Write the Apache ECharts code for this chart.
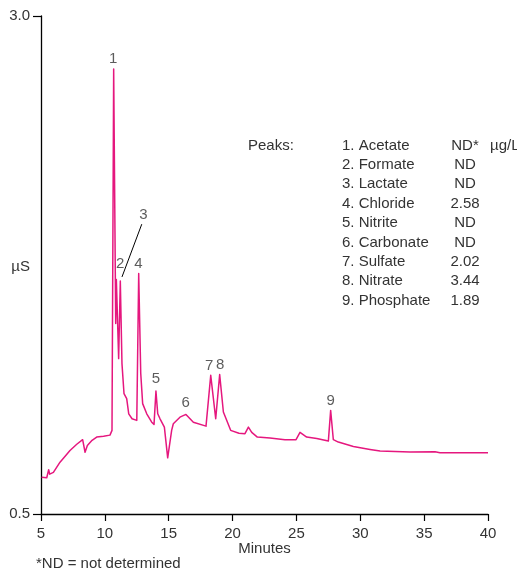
<!DOCTYPE html>
<html>
<head>
<meta charset="utf-8">
<script src="https://cdn.jsdelivr.net/npm/echarts@6/dist/echarts.min.js"></script>
<style>
html,body{margin:0;padding:0;background:#fff;}
#c{width:517px;height:571px;}
</style>
</head>
<body>
<div id="c"></div>
<script>
// ---- data ----
var timeMin = [5.05,5.45,5.55,5.6,5.68,5.76,5.97,6.49,7.27,7.8,8.26,8.35,8.45,8.63,9.0,9.36,9.9,10.4,10.56,10.69,10.85,10.9,11.08,11.21,11.34,11.5,11.71,11.87,12.13,12.5,12.65,12.81,12.96,13.28,13.67,13.85,14.0,14.14,14.32,14.66,14.92,15.23,15.36,15.88,16.35,16.93,17.92,18.29,18.68,18.99,19.28,19.85,20.5,20.97,21.24,21.5,21.94,22.93,24.1,24.97,25.28,25.8,26.59,27.5,27.68,27.89,28.28,29.46,30.76,31.55,33.9,35.85,36.24,40.0];
var signalUS = [0.685,0.682,0.69,0.722,0.70,0.698,0.709,0.76,0.819,0.85,0.873,0.875,0.81,0.844,0.87,0.886,0.89,0.896,0.92,2.734,1.456,1.677,1.28,1.67,1.255,1.104,1.079,1.003,0.978,0.97,1.707,1.205,1.054,1.003,0.961,0.95,1.117,1.003,0.978,0.936,0.782,0.92,0.953,0.986,1.0,0.961,0.941,1.196,0.978,1.2,1.012,0.92,0.905,0.903,0.936,0.91,0.886,0.881,0.873,0.873,0.91,0.886,0.879,0.866,1.02,0.873,0.861,0.839,0.824,0.816,0.811,0.813,0.808,0.808];
var xTicks = [5,10,15,20,25,30,35,40];
var yTicks = [0.5,3.0];
var peakNumbers = ['1','2','3','4','5','6','7','8','9'];
var peakCompounds = ['Acetate','Formate','Lactate','Chloride','Nitrite','Carbonate','Sulfate','Nitrate','Phosphate'];
var peakAmounts = ['ND*','ND','ND','2.58','ND','ND','2.02','3.44','1.89'];
var amountUnit = 'µg/L';
// annotation anchors (data coordinates) for the peak numbers
var labelTime = [10.66,11.19,13.01,12.62,14.0,16.33,18.16,19.02,27.69];
var labelSignal = [2.787,1.757,2.0,1.757,1.179,1.057,1.246,1.251,1.07];

var FONT = '"Liberation Sans",Arial,sans-serif';
var FS = 15;
var TXT = '#333';
var PINK = '#e5177e';

var lineData = timeMin.map(function(t,i){return [t, signalUS[i]];});
var labelData = labelTime.map(function(t,i){return {value:[t,labelSignal[i]], name:peakNumbers[i]};});

var graphics = [];
var f = FS+'px '+FONT;
graphics.push({type:'text', left:248, top:138, style:{text:'Peaks:', font:f, fill:TXT}});
for (var i=0;i<peakNumbers.length;i++){
  var y = 138 + i*19.4;
  graphics.push({type:'text', left:342, top:y, style:{text:peakNumbers[i]+'. '+peakCompounds[i], font:f, fill:TXT}});
  graphics.push({type:'text', x:465, y:y, style:{text:peakAmounts[i], font:f, fill:TXT, align:'center', verticalAlign:'top'}});
}
graphics.push({type:'text', left:490, top:138, style:{text:amountUnit, font:f, fill:TXT}});
graphics.push({type:'text', left:36, top:556, style:{text:'*ND = not determined', font:f, fill:TXT}});
graphics.push({type:'text', x:30, y:267, style:{text:'µS', font:f, fill:TXT, align:'right', verticalAlign:'middle'}});

var chart = echarts.init(document.getElementById('c'), null, {renderer:'canvas'});
chart.setOption({
  animation:false,
  backgroundColor:'#fff',
  grid:{left:41, right:29, top:16, bottom:57, containLabel:false, outerBoundsMode:'none'},
  xAxis:{
    type:'value', min:5, max:40, interval:5,
    name:'Minutes', nameLocation:'middle', nameGap:27, nameMoveOverlap:false,
    nameTextStyle:{fontFamily:FONT, fontSize:FS, color:TXT},
    axisLine:{lineStyle:{color:'#000', width:1.3}},
    axisTick:{length:7, lineStyle:{color:'#000', width:1.2}},
    axisLabel:{fontFamily:FONT, fontSize:FS, color:TXT, margin:12},
    splitLine:{show:false}
  },
  yAxis:{
    type:'value', min:0.5, max:3.0,
    axisLine:{show:true, lineStyle:{color:'#000', width:1.3}},
    axisTick:{show:true, length:8, customValues:yTicks, lineStyle:{color:'#000', width:1.2}},
    axisLabel:{fontFamily:FONT, fontSize:FS, color:TXT, margin:11, customValues:yTicks,
      formatter:function(v){return v.toFixed(1);}},
    splitLine:{show:false}
  },
  graphic:graphics,
  series:[
    {
      type:'line', data:lineData, showSymbol:false, symbol:'none',
      lineStyle:{color:PINK, width:1.5, join:'round'},
      markLine:{
        silent:true, symbol:'none', label:{show:false},
        lineStyle:{color:'#000', width:1, type:'solid'},
        data:[[{coord:[12.89,1.955]},{coord:[11.34,1.69]}]]
      },
      z:3
    },
    {
      type:'scatter', data:labelData, symbolSize:1, itemStyle:{color:'rgba(0,0,0,0)'},
      label:{show:true, position:'inside', formatter:function(p){return p.name;},
        fontFamily:FONT, fontSize:FS, color:TXT},
      silent:true, z:4
    }
  ]
});
</script>
</body>
</html>
